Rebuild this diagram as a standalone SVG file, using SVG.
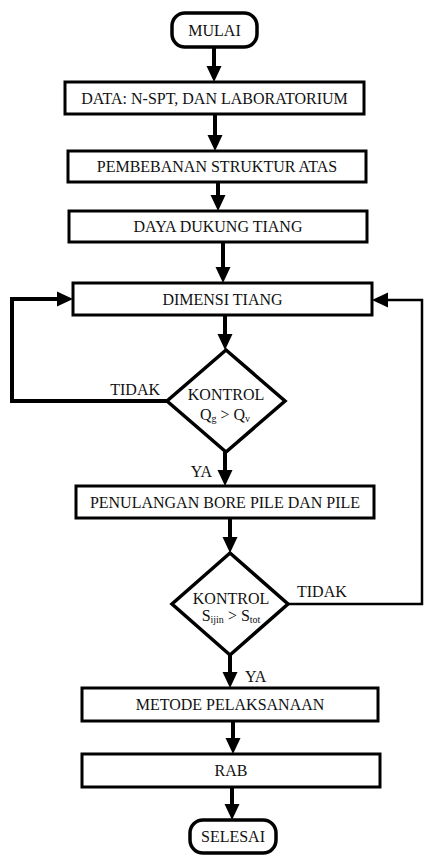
<svg xmlns="http://www.w3.org/2000/svg" width="424" height="856" viewBox="0 0 424 856" font-family="'Liberation Serif', 'Times New Roman', serif">
<defs>
<marker id="ah" markerUnits="userSpaceOnUse" markerWidth="16" markerHeight="16" refX="0" refY="7.5" orient="auto" overflow="visible">
<path d="M0,0 L16,7.5 L0,15 z" fill="#000"/>
</marker>
<style>
.box{fill:#fff;stroke:#000;stroke-width:3}
.term{fill:#fff;stroke:#000;stroke-width:3.5}
.dia{fill:#fff;stroke:#000;stroke-width:3.5;stroke-linejoin:miter}
text{font-family:'Liberation Serif','Times New Roman',serif;font-size:16px;fill:#111}
.t{text-anchor:middle}
.sub{font-size:10px}
.c{fill:none;stroke:#000;stroke-width:4;marker-end:url(#ah)}
.c2{fill:none;stroke:#000;stroke-width:2.5;marker-end:url(#ah)}
</style>
</defs>
<rect width="424" height="856" fill="#fff"/>
<g id="connectors">
<path class="c" d="M214,47 V66"/>
<path class="c" d="M215,114 V135"/>
<path class="c" d="M218,182 V195"/>
<path class="c" d="M223,242 V267"/>
<path class="c" d="M225,315 V334"/>
<path class="c" d="M225,452 V470"/>
<path class="c" d="M230,518 V537"/>
<path class="c" d="M230,655 V672"/>
<path class="c" d="M233,721 V738"/>
<path class="c" d="M232,787 V804"/>
<path class="c" d="M167,401 H12 V299 H57"/>
<path class="c2" d="M288,604 H422 V300 H388"/>
<text x="160" y="395" text-anchor="end">TIDAK</text>
<text x="212" y="477" text-anchor="end">YA</text>
<text x="297" y="597">TIDAK</text>
<text x="245" y="682">YA</text>
</g>
<g id="mulai">
<rect class="term" x="172" y="13" width="85" height="34" rx="13"/>
<text class="t" x="214.5" y="35.5">MULAI</text>
</g>
<g id="data">
<rect class="box" x="65" y="82" width="299" height="32"/>
<text class="t" x="214.5" y="103.5">DATA: N-SPT, DAN LABORATORIUM</text>
</g>
<g id="pembebanan">
<rect class="box" x="68" y="151" width="298" height="31"/>
<text class="t" x="217" y="172">PEMBEBANAN STRUKTUR ATAS</text>
</g>
<g id="daya">
<rect class="box" x="69" y="211" width="298" height="31"/>
<text class="t" x="218" y="232">DAYA DUKUNG TIANG</text>
</g>
<g id="dimensi">
<rect class="box" x="73" y="283" width="299" height="32"/>
<text class="t" x="222.5" y="304.5">DIMENSI TIANG</text>
</g>
<g id="kontrol1">
<polygon class="dia" points="226,350 285,401 226,452 167,401"/>
<text class="t" x="226" y="400">KONTROL</text>
<text class="t" x="225" y="420">Q<tspan class="sub" dy="2">g</tspan><tspan dy="-2"> &gt; Q</tspan><tspan class="sub" dy="2">v</tspan></text>
</g>
<g id="penulangan">
<rect class="box" x="76" y="486" width="298" height="32"/>
<text class="t" x="225" y="507.5">PENULANGAN BORE PILE DAN PILE</text>
</g>
<g id="kontrol2">
<polygon class="dia" points="230,553 288,604 230,655 172,604"/>
<text class="t" x="231" y="604">KONTROL</text>
<text class="t" x="231" y="621">S<tspan class="sub" dy="2">ijin</tspan><tspan dy="-2"> &gt; S</tspan><tspan class="sub" dy="2">tot</tspan></text>
</g>
<g id="metode">
<rect class="box" x="82" y="688" width="296" height="33"/>
<text class="t" x="230" y="710">METODE PELAKSANAAN</text>
</g>
<g id="rab">
<rect class="box" x="82" y="754" width="298" height="33"/>
<text class="t" x="231" y="776">RAB</text>
</g>
<g id="selesai">
<rect class="term" x="190" y="820" width="86" height="33" rx="13"/>
<text class="t" x="233" y="842">SELESAI</text>
</g>
</svg>
